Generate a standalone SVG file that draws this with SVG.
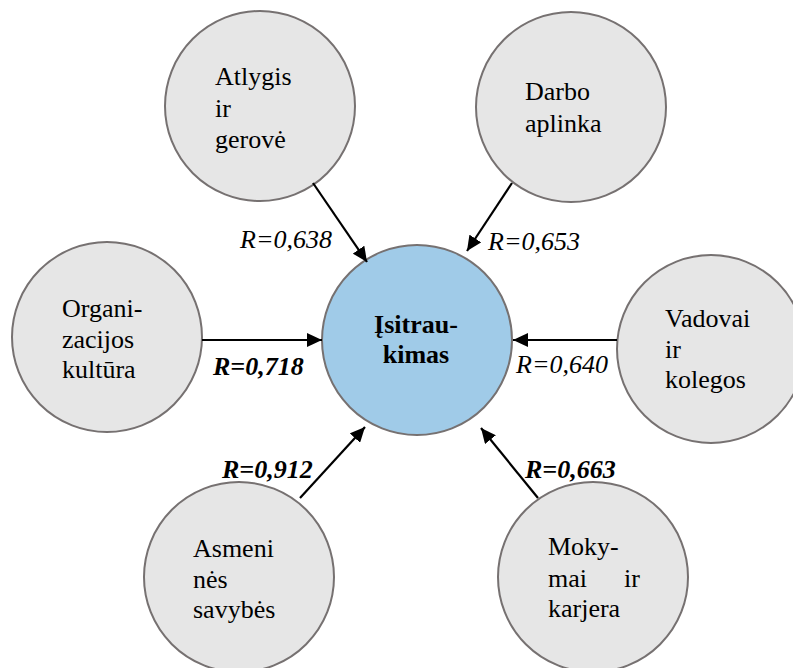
<svg xmlns="http://www.w3.org/2000/svg" width="793" height="668" viewBox="0 0 793 668" font-family="Liberation Serif, Times New Roman, Noto Serif, DejaVu Serif, serif" font-size="26">
<style>
.n{fill:#e6e6e6;stroke:#767171;stroke-width:2}
.c{fill:#a0cbe8;stroke:#767171;stroke-width:2}
.b{font-weight:bold}
.i{font-style:italic}
.e{stroke:#000;stroke-width:2.2;fill:none;marker-end:url(#ah)}
</style>
<defs>
<marker id="ah" markerUnits="userSpaceOnUse" markerWidth="16" markerHeight="14" refX="15" refY="7" orient="auto">
<path d="M0,0 L15,7 L0,14 z" fill="#000"/>
</marker>
</defs>
<rect width="793" height="668" fill="#fff"/>
<g id="center">
<circle class="c" cx="417" cy="340" r="95"/>
<text class="b" x="416" y="333" text-anchor="middle">Įsitrau-</text>
<text class="b" x="416" y="363" text-anchor="middle">kimas</text>
</g>
<g id="atlygis">
<circle class="n" cx="260" cy="106" r="95"/>
<text x="215" y="85">Atlygis</text>
<text x="215" y="117">ir</text>
<text x="215" y="148">gerovė</text>
</g>
<g id="darbo">
<circle class="n" cx="571" cy="107" r="95"/>
<text x="525" y="100">Darbo</text>
<text x="525" y="132">aplinka</text>
</g>
<g id="organizacijos">
<circle class="n" cx="107" cy="337" r="95"/>
<text x="62" y="317">Organi-</text>
<text x="62" y="348">zacijos</text>
<text x="62" y="378">kultūra</text>
</g>
<g id="vadovai">
<circle class="n" cx="711" cy="349" r="94"/>
<text x="665" y="327">Vadovai</text>
<text x="665" y="358">ir</text>
<text x="665" y="388">kolegos</text>
</g>
<g id="asmenines">
<circle class="n" cx="239" cy="577" r="95"/>
<text x="193" y="557">Asmeni</text>
<text x="193" y="588">nės</text>
<text x="193" y="618">savybės</text>
</g>
<g id="mokymai">
<circle class="n" cx="593" cy="577" r="95"/>
<text x="548" y="555">Moky-</text>
<text x="548" y="587">mai</text>
<text x="624" y="587">ir</text>
<text x="548" y="617">karjera</text>
</g>
<g id="connectors">
<line class="e" x1="313" y1="183" x2="367" y2="262"/>
<line class="e" x1="512" y1="183" x2="467" y2="251"/>
<line class="e" x1="202" y1="340" x2="322" y2="340"/>
<line class="e" x1="617" y1="340" x2="513" y2="340"/>
<line class="e" x1="300" y1="498" x2="365" y2="427"/>
<line class="e" x1="538" y1="498" x2="481" y2="428"/>
<text class="i" x="240" y="248">R=0,638</text>
<text class="i" x="488" y="250">R=0,653</text>
<text class="i b" x="213" y="375">R=0,718</text>
<text class="i" x="516" y="373">R=0,640</text>
<text class="i b" x="222" y="478">R=0,912</text>
<text class="i b" x="525" y="478">R=0,663</text>
</g>
</svg>
